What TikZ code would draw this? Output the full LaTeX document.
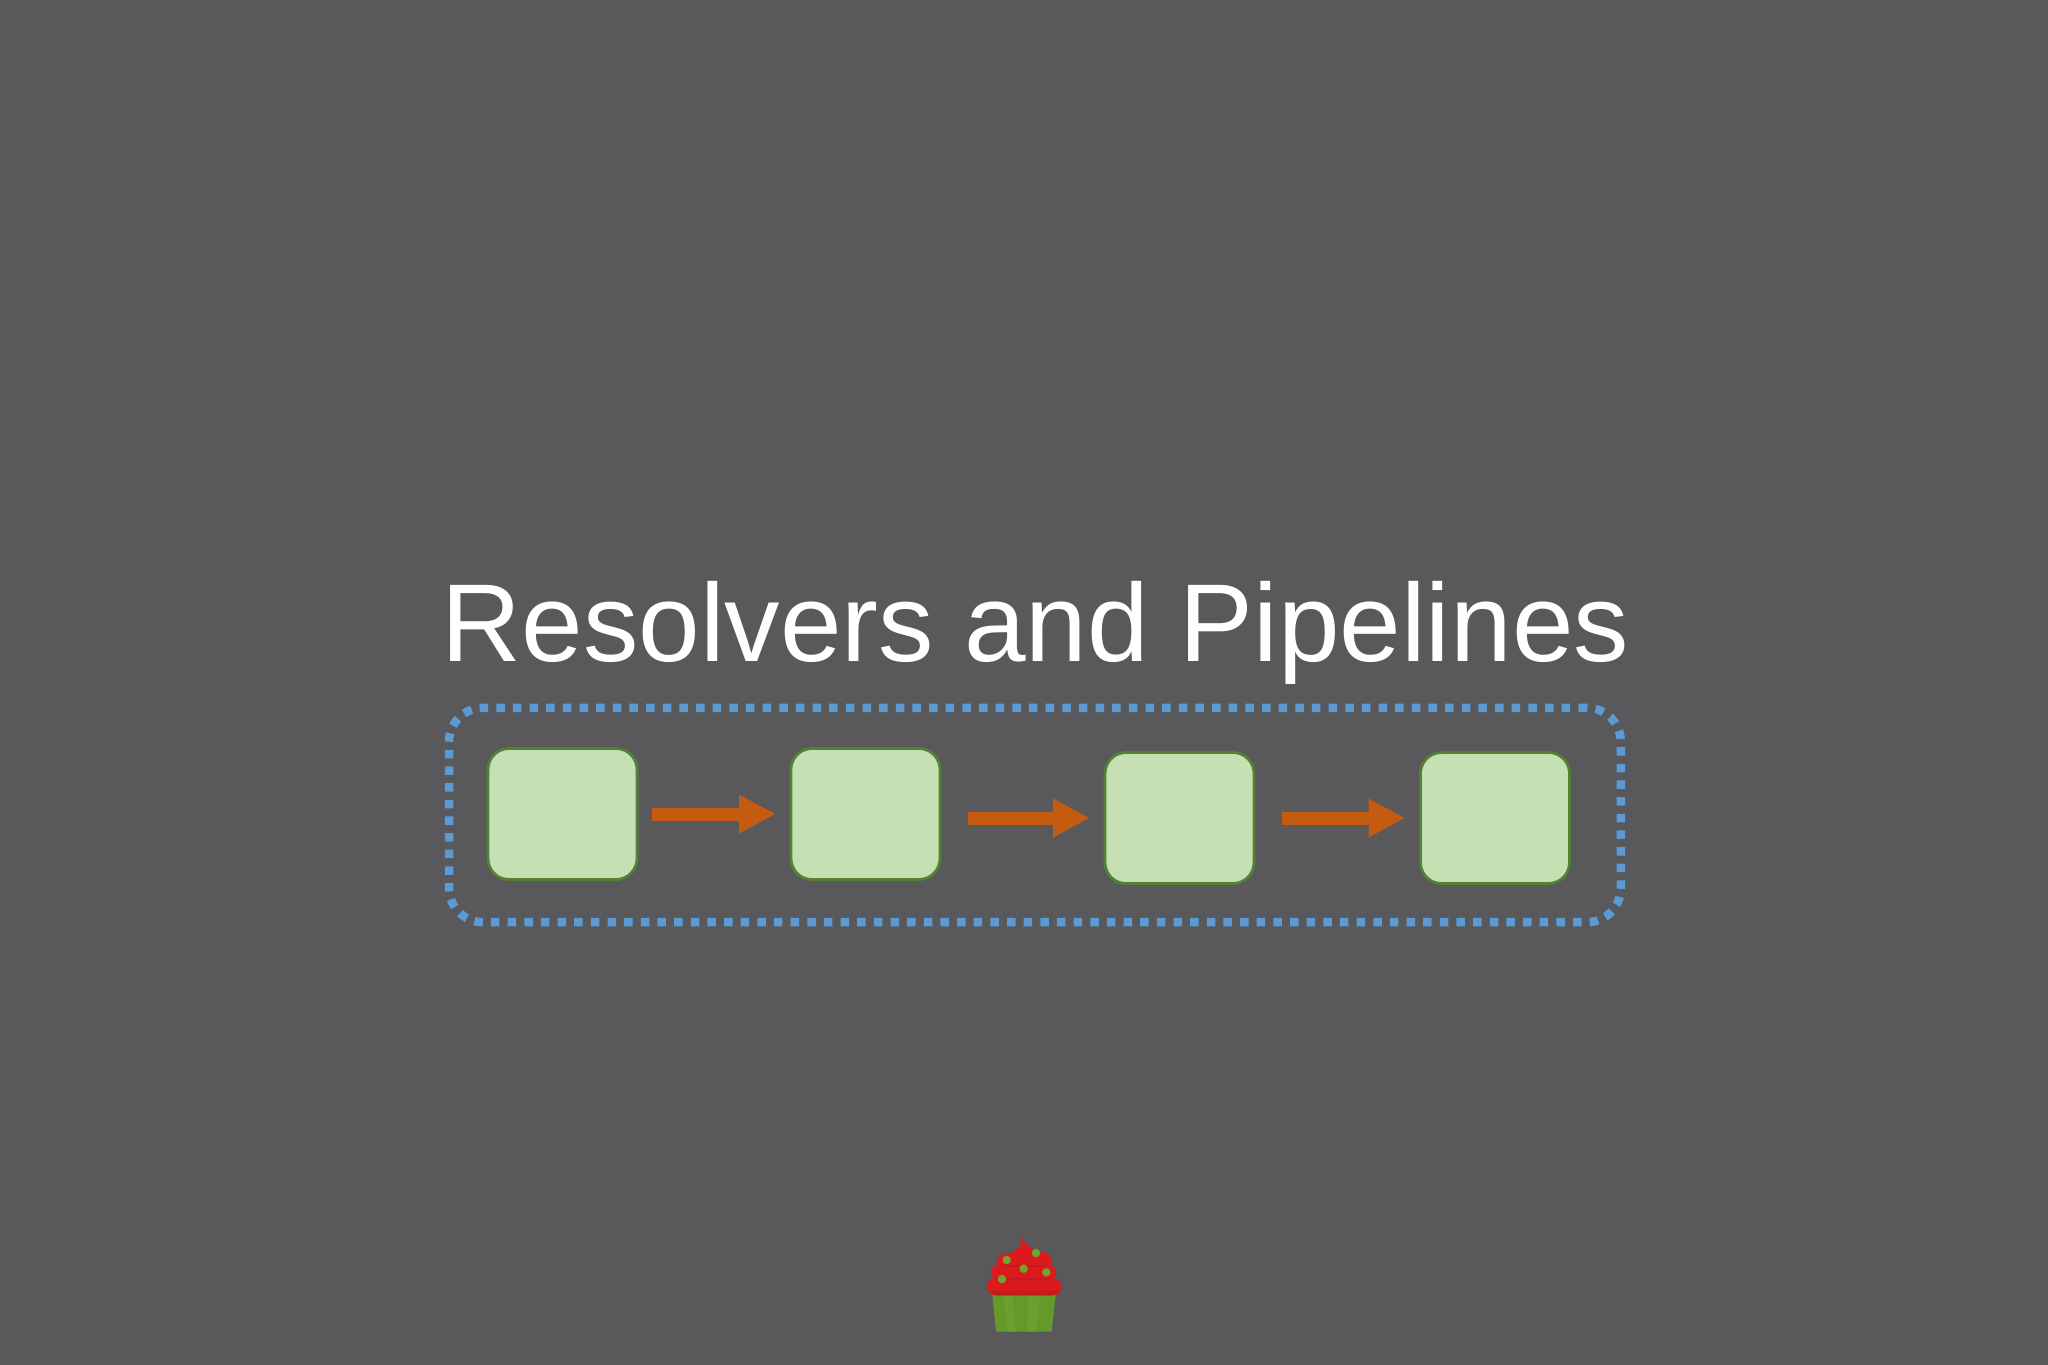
\documentclass[tikz,border=0pt]{standalone}
\usepackage{fontspec}
\setmainfont{Liberation Sans}
\usepackage{xcolor}
\usetikzlibrary{arrows.meta, positioning}
\definecolor{slidegray}{HTML}{59585A}
\definecolor{boxfill}{HTML}{C5E0B2}
\definecolor{boxline}{HTML}{548235}
\definecolor{flowcolor}{HTML}{C55A11}
\definecolor{dotblue}{HTML}{5B9BD5}
\definecolor{frosting}{HTML}{DC1A1E}
\definecolor{frostdark}{HTML}{C41A1D}
\definecolor{linergreen}{HTML}{659A2A}
\definecolor{linerlight}{HTML}{6CA02D}
\definecolor{sprinkle}{HTML}{6FA52E}
\tikzset{
	resolverbox/.style={draw=boxline, fill=boxfill, line width=0.055cm, rounded corners=0.42cm,
		minimum width=2.98cm, minimum height=2.62cm, inner sep=0pt, outer sep=0pt},
	flowarrow/.style={draw=flowcolor, line width=0.26cm,
		-{Triangle[length=0.74cm, width=0.72cm, fill=flowcolor]}, shorten <=0.3cm, shorten >=0.3cm},
	widegap/.style={shorten <=0.56cm},
	pipelinebox/.style={draw=dotblue, line width=0.17cm, rounded corners=0.68cm,
		dash pattern=on 0.17cm off 0.163cm, minimum width=23.44cm, minimum height=4.29cm,
		inner sep=0pt, outer sep=0pt},
	titletext/.style={text=white, font=\fontsize{63}{70}\selectfont, anchor=base, inner sep=0pt}
}
\begin{document}
\begin{tikzpicture}[x=0.02cm, y=-0.02cm]
	% Background, fixes the page size
	\fill[slidegray] (0,0) rectangle (2048,1365);

	% Title
	\node[titletext] (title) at (1035.5,661) {Resolvers and Pipelines};

	% Dotted frame round the pipeline
	\node[pipelinebox] (pipeline) at (1034.9,815) {};

	% Resolver boxes
	\node[resolverbox] (resolverA) at (562.5,814) {};
	\node[resolverbox] (resolverB) at (865.5,814) {};
	\node[resolverbox] (resolverC) at (1179.5,818) {};
	\node[resolverbox] (resolverD) at (1495,818) {};

	% Arrows between the boxes
	\draw[flowarrow] (resolverA) -- (resolverB);
	\draw[flowarrow, widegap] (resolverB.east |- resolverC) -- (resolverC);
	\draw[flowarrow, widegap] (resolverC) -- (resolverD);

	% Cupcake, in the pixels of a 3x crop
	\begin{scope}[shift={(960,1220)}, x=0.00667cm, y=-0.00667cm]
		\fill[linergreen] (97,225) -- (287,225) -- (275,335) -- (108,335) -- cycle;
		\fill[linerlight] (130,225) -- (158,225) -- (165,335) -- (142,335) -- cycle;
		\fill[linerlight] (205,225) -- (240,225) -- (228,335) -- (200,335) -- cycle;
		% Peak and top layer
		\fill[frosting] (188,48) .. controls (190,65) and (205,82) .. (228,92)
			.. controls (290,98) and (285,140) .. (250,140) -- (130,140)
			.. controls (100,138) and (105,104) .. (135,102)
			.. controls (160,100) and (185,85) .. (188,48) -- cycle;
		% Middle layer
		\fill[frosting] (118,132) -- (265,132) .. controls (298,136) and (296,180) .. (265,182)
			-- (118,182) .. controls (86,180) and (86,136) .. (118,132) -- cycle;
		% Bottom layer
		\fill[frosting] (105,174) -- (280,174) .. controls (312,178) and (312,224) .. (280,226)
			-- (105,226) .. controls (72,224) and (72,178) .. (105,174) -- cycle;
		% Shade under the layers
		\fill[frostdark] (122,134) -- (262,134) -- (252,141) -- (132,141) -- cycle;
		\fill[frostdark] (106,173) -- (278,173) -- (266,181) -- (118,181) -- cycle;
		\fill[frostdark] (88,212) .. controls (95,222) and (100,226) .. (105,226) -- (280,226)
			.. controls (285,226) and (292,222) .. (297,212) -- cycle;
		% Sprinkles
		\foreach \sx/\sy in {140/120, 228/99, 191/146, 259/157, 126/177}
			\fill[sprinkle] (\sx,\sy) circle (0.085cm);
	\end{scope}
\end{tikzpicture}
\end{document}
